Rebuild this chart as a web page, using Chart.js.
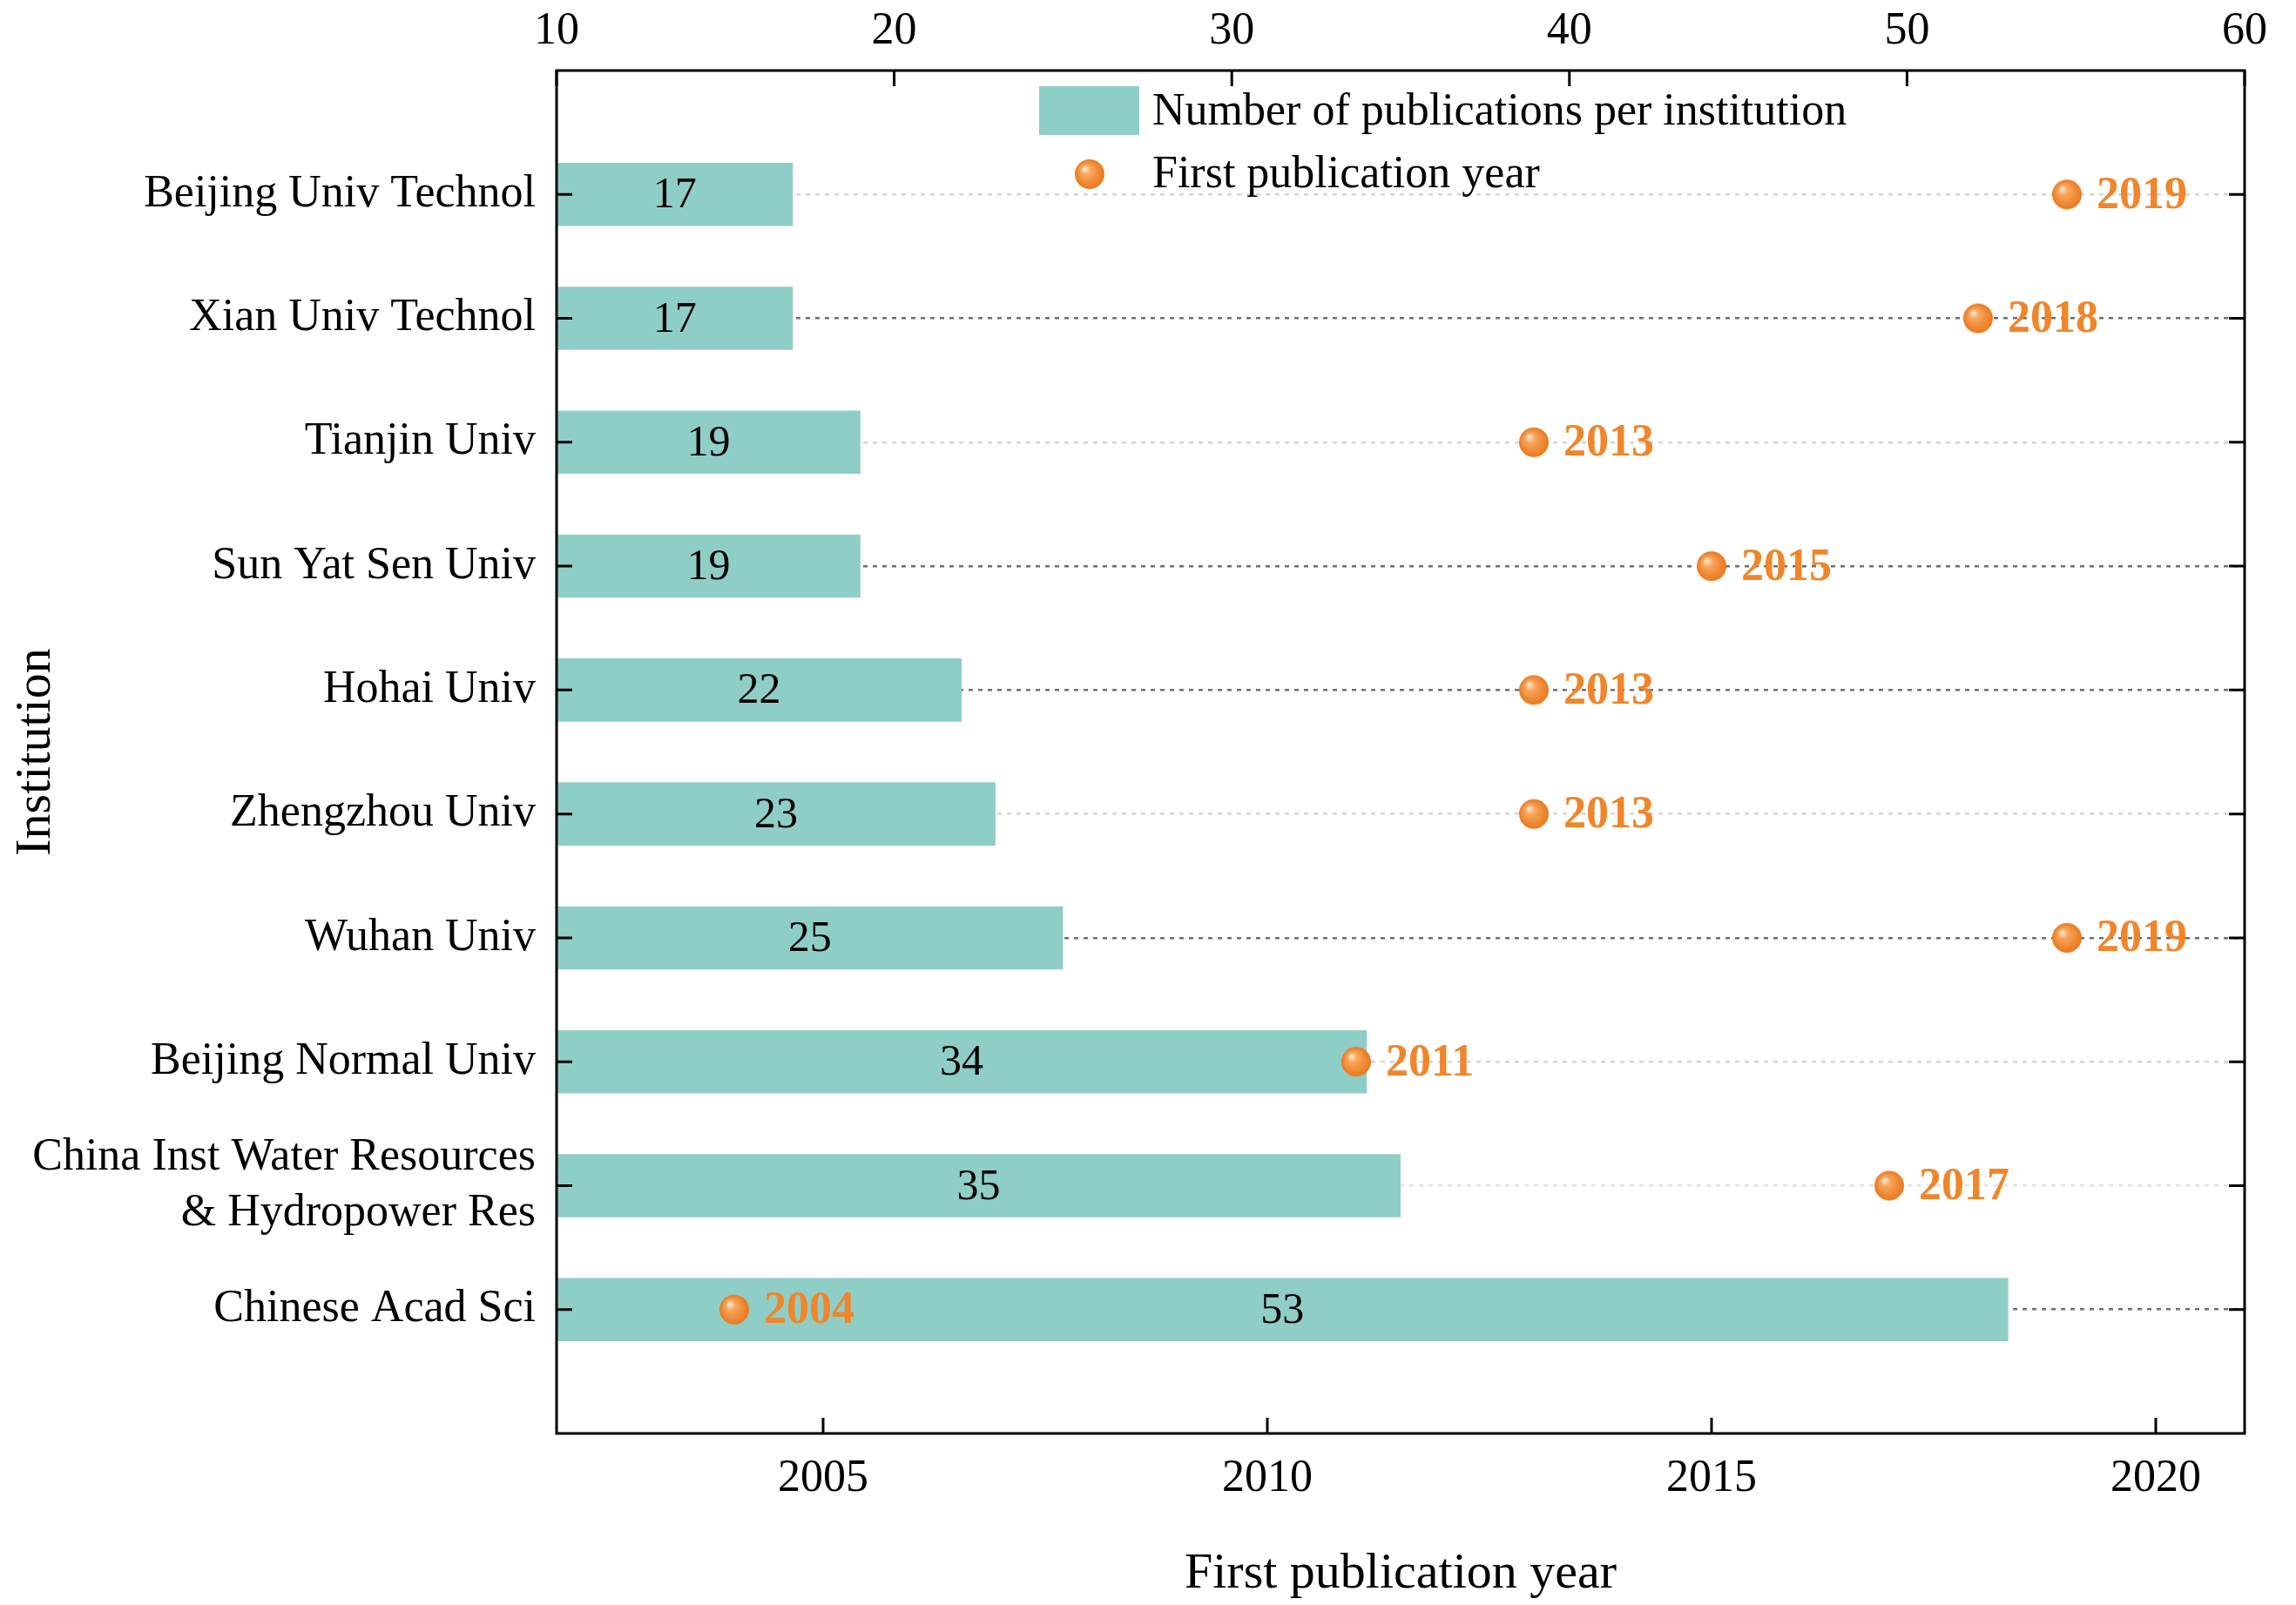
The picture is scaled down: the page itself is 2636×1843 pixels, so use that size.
<!DOCTYPE html>
<html><head><meta charset="utf-8">
<script src="https://cdn.jsdelivr.net/npm/chart.js@4.4.1/dist/chart.umd.min.js"></script>
<style>html,body{margin:0;padding:0;background:#fff}canvas{display:block}</style>
</head><body>
<canvas id="c" width="2636" height="1843"></canvas>
<script>
// ---- data ----
const institutions = ['Beijing Univ Technol','Xian Univ Technol','Tianjin Univ','Sun Yat Sen Univ','Hohai Univ','Zhengzhou Univ','Wuhan Univ','Beijing Normal Univ',['China Inst Water Resources','& Hydropower Res'],'Chinese Acad Sci'];
const publications = [17,17,19,19,22,23,25,34,35,53];
const firstYears = [2019,2018,2013,2015,2013,2013,2019,2011,2017,2004];
const countTicks = [10,20,30,40,50,60];
const yearTicks = [2005,2010,2015,2020];
const barLabel = 'Number of publications per institution';
const pointLabel = 'First publication year';
const xTitle = 'First publication year';
const yTitle = 'Institution';

// ---- styles ----
const FONT = '"Liberation Serif", "Times New Roman", serif';
const BAR_COLOR = '#8FCEC7';
const ORANGE = '#F0852A';
const rowLineColors = ['rgba(0,0,0,0)','#d4d4d4','#6e6e6e','#d4d4d4','#6e6e6e','#6e6e6e','#d4d4d4','#6e6e6e','#d4d4d4','#e2e2e2','#6e6e6e','rgba(0,0,0,0)'];

// sphere-like marker
function makeSphere(r){
  const c = document.createElement('canvas');
  c.width = c.height = 2*r+2;
  const g = c.getContext('2d');
  const cx = r+1, cy = r+1;
  const grad = g.createRadialGradient(cx-r*0.35, cy-r*0.4, r*0.05, cx, cy, r);
  grad.addColorStop(0, '#FFE6CC');
  grad.addColorStop(0.3, '#F8A55C');
  grad.addColorStop(1, '#EA781C');
  g.fillStyle = grad;
  g.beginPath(); g.arc(cx, cy, r, 0, Math.PI*2); g.fill();
  return c;
}
const sphere = makeSphere(17);

const yLabels = [''].concat(institutions, ['']);
const barData = [null].concat(publications, [null]);
const pointData = [null].concat(firstYears, [null]);

const valueLabels = {
  id: 'valueLabels',
  afterDatasetsDraw(chart){
    const ctx = chart.ctx;
    const a = chart.chartArea;
    ctx.save();
    ctx.textBaseline = 'middle';
    const bm = chart.getDatasetMeta(0);
    ctx.font = '50px ' + FONT; ctx.fillStyle = '#000'; ctx.textAlign = 'center';
    bm.data.forEach((el,i)=>{
      const v = chart.data.datasets[0].data[i];
      if (v == null) return;
      const start = Math.max(el.base, a.left);
      ctx.fillText(String(v), (el.x + start)/2, el.y + 2);
    });
    const pm = chart.getDatasetMeta(1);
    ctx.font = 'bold 52px ' + FONT; ctx.fillStyle = ORANGE; ctx.textAlign = 'left';
    pm.data.forEach((el,i)=>{
      const v = chart.data.datasets[1].data[i];
      if (v == null) return;
      ctx.fillText(String(v), el.x + 34, el.y + 2);
    });
    ctx.restore();
  }
};

const frameTicks = {
  id: 'frameTicks',
  afterDraw(chart){
    const {ctx, chartArea: a, scales} = chart;
    const L = 18;
    ctx.save();
    ctx.strokeStyle = '#000'; ctx.lineWidth = 3;
    ctx.strokeRect(a.left, a.top, a.right - a.left, a.bottom - a.top);
    ctx.beginPath();
    scales.xt.ticks.forEach(t=>{ const x = scales.xt.getPixelForValue(t.value); ctx.moveTo(x, a.top); ctx.lineTo(x, a.top + L); });
    scales.xb.ticks.forEach(t=>{ const x = scales.xb.getPixelForValue(t.value); ctx.moveTo(x, a.bottom); ctx.lineTo(x, a.bottom - L); });
    const n = scales.y.ticks.length;
    scales.y.ticks.forEach((t,i)=>{
      if (i === 0 || i === n-1) return;
      const y = scales.y.getPixelForTick(i);
      ctx.moveTo(a.left, y); ctx.lineTo(a.left + L, y);
      ctx.moveTo(a.right, y); ctx.lineTo(a.right - L, y);
    });
    ctx.stroke();
    ctx.restore();
  }
};

const innerLegend = {
  id: 'innerLegend',
  afterDraw(chart){
    const {ctx, chartArea: a} = chart;
    const ds = chart.data.datasets;
    ctx.save();
    ctx.fillStyle = ds[0].backgroundColor;
    ctx.fillRect(a.left + 554, a.top + 18, 115, 56);
    ctx.drawImage(sphere, a.left + 612 - sphere.width/2, a.top + 119 - sphere.height/2);
    ctx.fillStyle = '#000';
    ctx.font = '52px ' + FONT;
    ctx.textAlign = 'left'; ctx.textBaseline = 'middle';
    ctx.fillText(ds[0].label, a.left + 684, a.top + 48);
    ctx.fillText(ds[1].label, a.left + 684, a.top + 120);
    ctx.restore();
  }
};

new Chart(document.getElementById('c'), {
  type: 'bar',
  data: {
    labels: yLabels,
    datasets: [
      { type: 'bar', label: barLabel, data: barData, xAxisID: 'xt', yAxisID: 'y',
        backgroundColor: BAR_COLOR, borderWidth: 0, barPercentage: 0.51, categoryPercentage: 1, order: 1 },
      { type: 'line', label: pointLabel, data: pointData, xAxisID: 'xb', yAxisID: 'y', indexAxis: 'y',
        showLine: false, pointStyle: sphere, pointRadius: 17, pointHoverRadius: 17,
        backgroundColor: ORANGE, borderColor: ORANGE, order: 0 }
    ]
  },
  options: {
    indexAxis: 'y',
    responsive: false,
    animation: false,
    devicePixelRatio: 1,
    layout: { padding: { left: 0, right: 59, top: 0, bottom: 0 } },
    plugins: { legend: { display: false }, tooltip: { enabled: false } },
    scales: {
      y: {
        type: 'category', position: 'left', offset: false,
        grid: { display: true, offset: false, drawTicks: false, lineWidth: 2.5,
                color: c => rowLineColors[c.index] },
        border: { display: false, dash: [5, 6] },
        ticks: { autoSkip: false, padding: 24, color: '#000', font: { family: FONT, size: 52, lineHeight: 1.23 } },
        title: { display: true, text: yTitle, color: '#000', font: { family: FONT, size: 58 }, padding: { top: 7, bottom: 0 } },
        afterFit: s => { s.width = 639; }
      },
      xt: {
        type: 'linear', position: 'top', min: 10, max: 60, beginAtZero: false,
        grid: { display: false, drawTicks: false },
        border: { display: false },
        afterBuildTicks: s => { s.ticks = countTicks.map(v => ({ value: v })); },
        ticks: { padding: 13, color: '#000', maxRotation: 0, font: { family: FONT, size: 52 },
                 callback: v => String(v) },
        afterFit: s => { s.height = 81; }
      },
      xb: {
        type: 'linear', position: 'bottom', min: 2002, max: 2021, beginAtZero: false,
        grid: { display: false, drawTicks: false },
        border: { display: false },
        afterBuildTicks: s => { s.ticks = yearTicks.map(v => ({ value: v })); },
        ticks: { padding: 21, color: '#000', maxRotation: 0, font: { family: FONT, size: 52 },
                 callback: v => String(v) },
        title: { display: true, text: xTitle, color: '#000', font: { family: FONT, size: 58 }, padding: { top: 0, bottom: 0 } },
        afterFit: s => { s.height = 197; }
      }
    }
  },
  plugins: [valueLabels, frameTicks, innerLegend]
});
</script>
</body></html>
